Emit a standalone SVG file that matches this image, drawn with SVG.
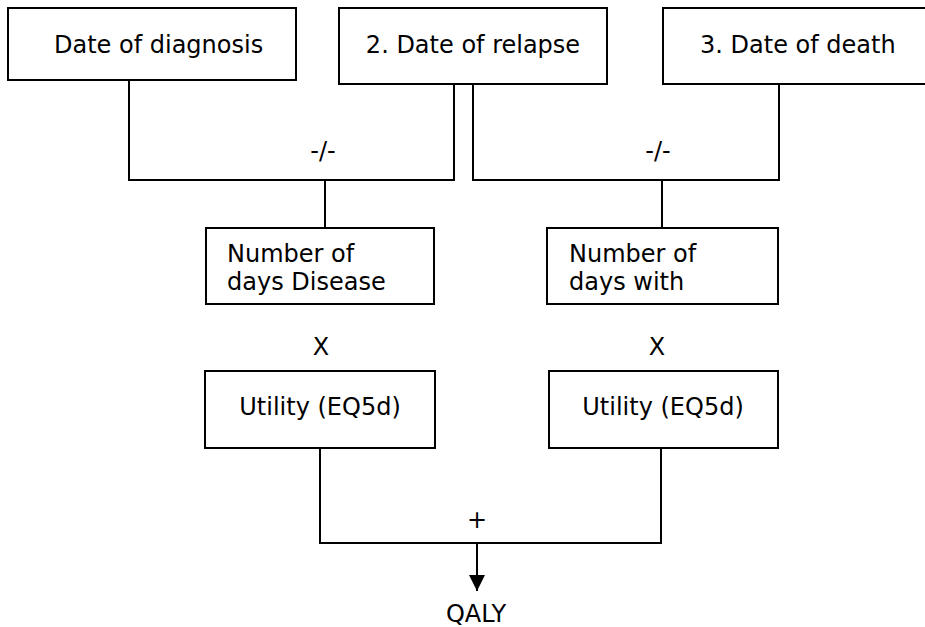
<svg xmlns="http://www.w3.org/2000/svg" width="925" height="627" viewBox="0 0 925 627">
<style>
.box{fill:#fff;stroke:#000;stroke-width:2}
.ln{fill:none;stroke:#000;stroke-width:2}
text{font-family:"DejaVu Sans","Verdana",sans-serif;font-size:24px;fill:#000}
.c{text-anchor:middle}
</style>
<defs>
<marker id="ah" markerWidth="16" markerHeight="16" refX="16" refY="8" orient="auto" markerUnits="userSpaceOnUse">
<path d="M0,0 L16,8 L0,16 Z" fill="#000"/>
</marker>
</defs>
<rect width="925" height="627" fill="#fff"/>
<g id="connectors">
<path class="ln" d="M129,80 V180 H454 V84"/>
<path class="ln" d="M325,180 V228"/>
<path class="ln" d="M473,84 V180 H779 V84"/>
<path class="ln" d="M662,180 V228"/>
<path class="ln" d="M320,448 V543 H661 V448"/>
<path class="ln" d="M477,543 V591" marker-end="url(#ah)"/>
<text class="c" x="323" y="159">-/-</text>
<text class="c" x="658" y="159">-/-</text>
<text class="c" x="321" y="355">X</text>
<text class="c" x="657" y="355">X</text>
<text class="c" x="477" y="528">+</text>
</g>
<g id="diagnosis">
<rect class="box" x="8" y="8" width="288" height="72"/>
<text x="54" y="53">Date of diagnosis</text>
</g>
<g id="relapse">
<rect class="box" x="339" y="8" width="268" height="76"/>
<text class="c" x="473" y="53">2. Date of relapse</text>
</g>
<g id="death">
<rect class="box" x="663" y="8" width="270" height="76"/>
<text x="700" y="53">3. Date of death</text>
</g>
<g id="days-disease">
<rect class="box" x="206" y="228" width="228" height="76"/>
<text x="227" y="262">Number of</text>
<text x="227" y="290">days Disease</text>
</g>
<g id="days-with">
<rect class="box" x="547" y="228" width="231" height="76"/>
<text x="569" y="262">Number of</text>
<text x="569" y="290">days with</text>
</g>
<g id="utility-1">
<rect class="box" x="205" y="371" width="230" height="77"/>
<text class="c" x="320" y="415">Utility (EQ5d)</text>
</g>
<g id="utility-2">
<rect class="box" x="549" y="371" width="229" height="77"/>
<text class="c" x="663" y="415">Utility (EQ5d)</text>
</g>
<g id="qaly">
<text class="c" x="476" y="622">QALY</text>
</g>
</svg>
